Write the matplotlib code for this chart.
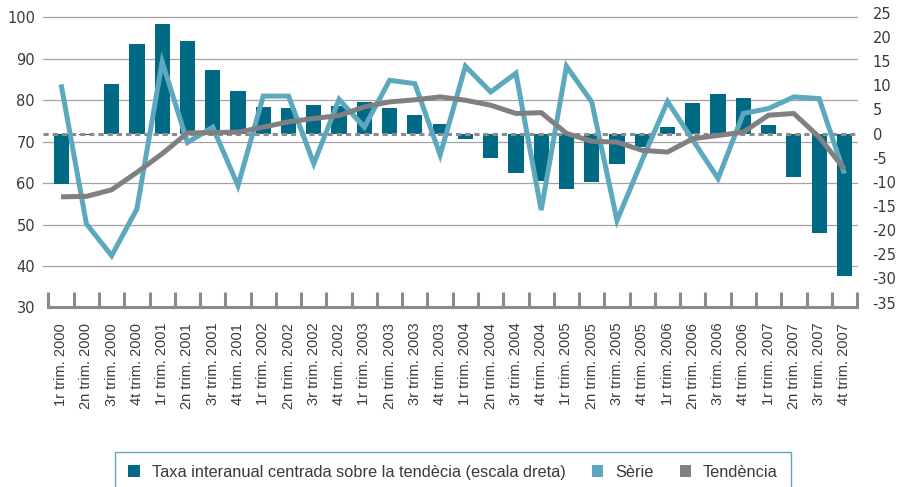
import numpy as np
import matplotlib.pyplot as plt
from matplotlib.patches import Patch

plt.rcParams['axes.unicode_minus'] = False

quarters = ['1r', '2n', '3r', '4t']
years = [2000, 2001, 2002, 2003, 2004, 2005, 2006, 2007]
labels = [q + ' trim. ' + str(y) for y in years for q in quarters]

# taxa interanual centrada sobre la tendencia (escala dreta)
taxa = [-10.5, -0.4, 10.2, 18.5, 22.7, 19.2, 13.1, 8.8,
        5.5, 5.3, 5.9, 5.7, 6.6, 5.3, 3.8, 2.0,
        -1.2, -5.0, -8.2, -9.8, -11.4, -10.0, -6.4, -2.8,
        1.3, 6.4, 8.2, 7.3, 1.8, -9.1, -20.5, -29.5]
serie = [83.8, 50.2, 42.5, 53.8, 89.3, 69.8, 73.5, 59.4,
         81.0, 81.0, 64.7, 80.2, 73.5, 84.8, 84.0, 66.8,
         88.2, 82.0, 86.5, 53.5, 88.2, 79.6, 51.0, 65.6,
         79.7, 70.4, 61.1, 76.8, 78.0, 80.8, 80.4, 62.3]
tendencia = [56.7, 56.8, 58.4, 62.6, 67.1, 72.1, 72.2, 72.3,
             73.5, 74.8, 75.6, 76.3, 78.4, 79.6, 80.1, 80.8,
             80.0, 78.8, 76.8, 77.0, 72.0, 70.1, 69.9, 67.9,
             67.5, 70.7, 71.5, 72.3, 76.4, 76.8, 71.1, 63.4]

TEAL = '#006a85'
BLUE = '#5ba8bf'
GREY = '#808083'
AXGREY = '#8a8a8a'
TXT = '#3a3a3a'

x = np.arange(len(labels))

fig = plt.figure(figsize=(9.03, 4.87), dpi=100)
ax = fig.add_axes([0.0537, 0.3686, 0.8954, 0.6086])
ax2 = ax.twinx()
ax3 = ax.twinx()

ax.set_xlim(-0.5, len(labels) - 0.5)
ax.set_ylim(30, 101.5)
ax2.set_ylim(-36.02, 25.34)
ax3.set_ylim(30, 101.5)

for v in range(40, 101, 10):
    ax.axhline(v, xmin=-0.007, xmax=1, color='#a3a3a3', lw=0.9, clip_on=False, zorder=0)

ax2.bar(x, taxa, width=0.6, color=TEAL, zorder=2)
ax2.axhline(0, xmin=-0.007, xmax=1, color='#8c8c8c', lw=2.2, dashes=(1.7, 1.3),
            clip_on=False, zorder=3)

ax3.plot(x, serie, color=BLUE, lw=3.6, solid_joinstyle='miter', solid_capstyle='butt')
ax3.plot(x, tendencia, color=GREY, lw=3.6, solid_joinstyle='round', solid_capstyle='butt')

for a in (ax, ax2, ax3):
    for s in ['top', 'left', 'right']:
        a.spines[s].set_visible(False)
ax2.spines['bottom'].set_visible(False)
ax3.spines['bottom'].set_visible(False)
ax.spines['bottom'].set_color(AXGREY)
ax.spines['bottom'].set_linewidth(2.2)

ax.set_xticks(np.arange(-0.5, len(labels), 1))
ax.tick_params(axis='x', which='major', direction='in', length=10.8, width=2.2,
               color=AXGREY, labelbottom=False)
ax.set_xticks(x, minor=True)
ax.set_xticklabels(labels, minor=True, rotation=90, fontsize=10.5,
                   family='Liberation Sans', color=TXT)
ax.tick_params(axis='x', which='minor', length=0, pad=11)

ax.set_yticks(range(30, 101, 10))
ax.tick_params(axis='y', length=0, pad=9.7, labelsize=10.5, labelcolor=TXT)
ax2.set_yticks(range(-35, 26, 5))
ax2.tick_params(axis='y', length=0, pad=11.3, labelsize=10.5, labelcolor=TXT)
ax3.yaxis.set_visible(False)

handles = [Patch(facecolor=TEAL), Patch(facecolor=BLUE), Patch(facecolor=GREY)]
names = ['Taxa interanual centrada sobre la tendècia (escala dreta)', 'Sèrie', 'Tendència']
leg = fig.legend(handles, names, loc='upper left', bbox_to_anchor=(115 / 903, 1 - 451.7 / 487),
                 ncol=3, frameon=True, fancybox=False, edgecolor='#5fa6ba', framealpha=1,
                 prop={'family': 'Liberation Sans', 'size': 11.8},
                 handlelength=0.7, handleheight=0.7, handletextpad=0.73,
                 columnspacing=1.6, borderpad=0.8, borderaxespad=0)
leg.get_frame().set_linewidth(1)
for t in leg.get_texts():
    t.set_color(TXT)

fig.savefig('out.png', dpi=100)
